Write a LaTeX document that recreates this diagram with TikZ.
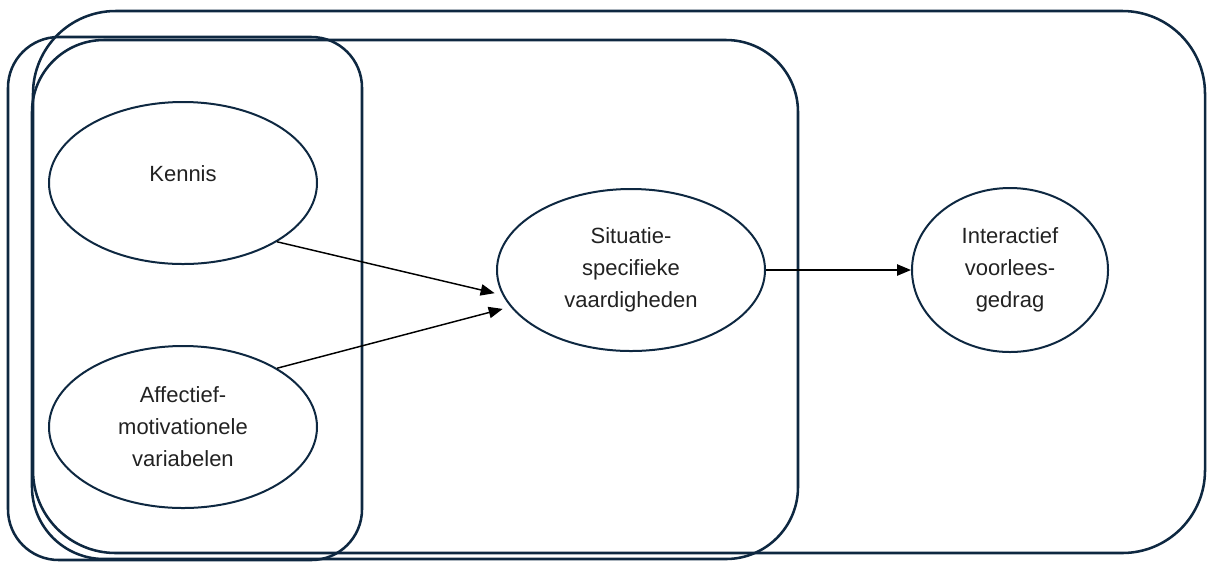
\documentclass[tikz,border=0pt]{standalone}
\usepackage{fontspec}
\setmainfont{Liberation Sans}
\usepackage{tikz}
\usetikzlibrary{shapes.geometric,arrows.meta}
\definecolor{frame}{RGB}{14,40,65}
\definecolor{txt}{RGB}{34,34,34}
\tikzset{every picture/.style={line width=0.75pt}}
\tikzset{
  blob/.style={draw=frame,line width=1.5pt,ellipse,inner sep=0pt,align=center,
    text=txt,font=\fontsize{16.5}{24}\selectfont},
  link/.style={draw=black,line width=1.1pt,-{Triangle[length=10.5pt,width=8.5pt]}}
}

\begin{document}
\begin{tikzpicture}[x=0.75pt,y=0.75pt,yscale=-1,xscale=1]
		\useasboundingbox (0,0) rectangle (1209,562);
		
		%Shape: Rounded Rect (outer)
		\draw [color=frame ,line width=1.9pt ,rounded corners=62pt ] (33,11) rectangle (1205,553) ;
		%Shape: Rounded Rect (middle)
		\draw [color=frame ,line width=1.9pt ,rounded corners=54pt ] (32,40) rectangle (798,559) ;
		%Shape: Rounded Rect (left)
		\draw [color=frame ,line width=1.9pt ,rounded corners=38pt ] (8,37) rectangle (362,560) ;
		
		%Shape: Ellipse
		\node [blob ,minimum width=201pt ,minimum height=121.5pt ] (kennis) at (183,183) {\raisebox{1.5pt}[0pt][0pt]{Kennis}};
		%Shape: Ellipse
		\node [blob ,minimum width=201pt ,minimum height=121.5pt ] (affectief) at (183,427) {Affectief-\\motivationele\\variabelen};
		%Shape: Ellipse
		\node [blob ,minimum width=201pt ,minimum height=121.5pt ] (situatie) at (631,270) {Situatie-\\specifieke\\vaardigheden};
		%Shape: Ellipse
		\node [blob ,minimum width=147pt ,minimum height=123pt ] (interactief) at (1010,270) {Interactief\\voorlees-\\gedrag};
		
		%Straight Lines
		\draw [link ,shorten >=6pt ] (kennis.-32) -- (situatie.191) ;
		%Straight Lines
		\draw [link ,shorten >=6pt ] (affectief.32) -- (situatie.197) ;
		%Straight Lines
		\draw [link ] (situatie.east) -- (interactief.west) ;
		
\end{tikzpicture}
\end{document}
